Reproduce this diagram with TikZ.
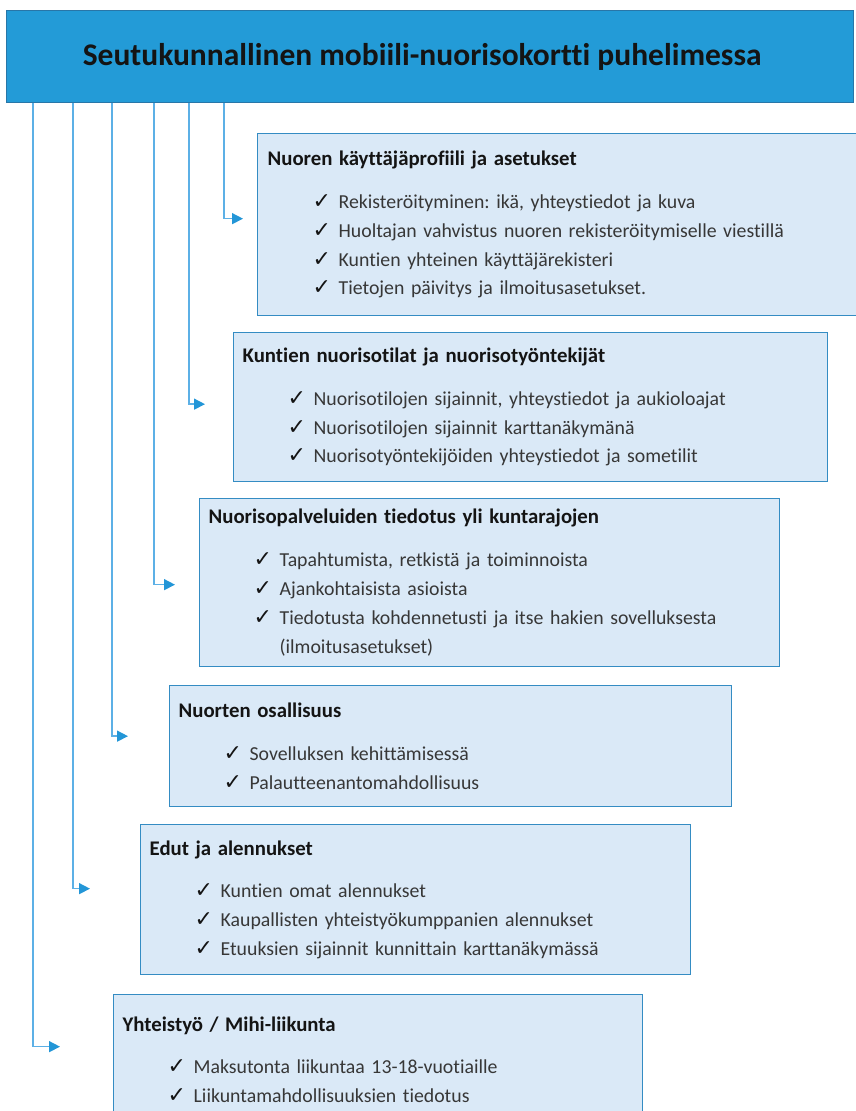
\documentclass[tikz,border=0pt]{standalone}
\usepackage{fontspec}
\setmainfont{Carlito}[Ligatures=NoCommon]
\newfontfamily\symfont{DejaVu Sans}
\usetikzlibrary{arrows.meta}
\usetikzlibrary{positioning}
\frenchspacing

\definecolor{barfill}{RGB}{35,155,215}
\definecolor{barline}{RGB}{40,118,168}
\definecolor{cardfill}{RGB}{218,233,247}
\definecolor{cardline}{RGB}{52,140,195}
\definecolor{linkline}{RGB}{92,176,230}
\definecolor{linkhead}{RGB}{35,150,215}
\definecolor{ink}{RGB}{20,20,20}

% one check mark line inside a card
\newcommand{\chk}{\hspace*{45pt}\makebox[26pt][l]{\fontsize{22}{22}\symfont\color{ink}✓}}
\newcommand{\cont}{\hspace*{71pt}}
\newcommand{\cardtitle}[1]{{\fontsize{20.8}{28.8}\selectfont\bfseries\color{ink}#1}}

\tikzset{
    headbar/.style={
           rectangle,
           draw=barline, line width=1.2pt,
           fill=barfill,
           anchor=north west,
           font=\fontsize{31.5}{36}\selectfont\bfseries,
           text=ink,
           },
    card/.style={
           rectangle,
           draw=cardline, line width=1.3pt,
           fill=cardfill,
           anchor=north west,
           align=left,
           inner xsep=9pt,
           font=\fontsize{19.8}{28.8}\selectfont,
           text=ink!85,
           },
    link/.style={
           draw=linkline, line width=1.5pt,
           -{Triangle[length=11pt,width=11pt,color=linkhead]},
           },
}

\begin{document}
\begin{tikzpicture}[x=1pt,y=-1pt]

 \useasboundingbox (0,0) rectangle (855,1111);

 % title bar across the top
 \node[headbar, minimum width=847pt, minimum height=92pt] (bar) at (6,10)
 {Seutukunnallinen mobiili-nuorisokortti puhelimessa\hspace*{16pt}};

 % the six cards, stepping down and to the left
 \node[card, minimum width=600pt, minimum height=182pt, text width=580pt] (profile) at (257,133)
 {\cardtitle{Nuoren käyttäjäprofiili ja asetukset}\\[14pt]
  \chk Rekisteröityminen: ikä, yhteystiedot ja kuva\\
  \chk Huoltajan vahvistus nuoren rekisteröitymiselle viestillä\\
  \chk Kuntien yhteinen käyttäjärekisteri\\
  \chk Tietojen päivitys ja ilmoitusasetukset.};

 \node[card, minimum width=594pt, minimum height=149pt, text width=576pt] (facilities) at (233,332)
 {\cardtitle{Kuntien nuorisotilat ja nuorisotyöntekijät}\\[14pt]
  \chk Nuorisotilojen sijainnit, yhteystiedot ja aukioloajat\\
  \chk Nuorisotilojen sijainnit karttanäkymänä\\
  \chk Nuorisotyöntekijöiden yhteystiedot ja sometilit};

 \node[card, minimum width=580pt, minimum height=168pt, text width=562pt] (info) at (199,498)
 {\cardtitle{Nuorisopalveluiden tiedotus yli kuntarajojen}\\[14pt]
  \chk Tapahtumista, retkistä ja toiminnoista\\
  \chk Ajankohtaisista asioista\\
  \chk Tiedotusta kohdennetusti ja itse hakien sovelluksesta\\
  \cont (ilmoitusasetukset)};

 \node[card, minimum width=562pt, minimum height=121pt, text width=544pt] (participation) at (169,685)
 {\cardtitle{Nuorten osallisuus}\\[14pt]
  \chk Sovelluksen kehittämisessä\\
  \chk Palautteenantomahdollisuus};

 \node[card, minimum width=550pt, minimum height=150pt, text width=532pt] (benefits) at (140,824)
 {\cardtitle{Edut ja alennukset}\\[14pt]
  \chk Kuntien omat alennukset\\
  \chk Kaupallisten yhteistyökumppanien alennukset\\
  \chk Etuuksien sijainnit kunnittain karttanäkymässä};

 \node[card, minimum width=529pt, minimum height=130pt, text width=511pt] (sport) at (113,994)
 {\cardtitle{Yhteistyö / Mihi-liikunta}\\[14pt]
  \chk Maksutonta liikuntaa 13-18-vuotiaille\\
  \chk Liikuntamahdollisuuksien tiedotus};

 % elbow connectors from the bar to each card
 \foreach \dx/\card/\gap/\up in {218/profile/14/6, 183/facilities/28/3, 148/info/24/-2,
                                 106/participation/41/10, 67/benefits/50/11, 27/sport/53/13}
   \draw[link] ([xshift=\dx pt]bar.south west) |- ([xshift=-\gap pt,yshift=\up pt]\card.west);

\end{tikzpicture}
\end{document}
